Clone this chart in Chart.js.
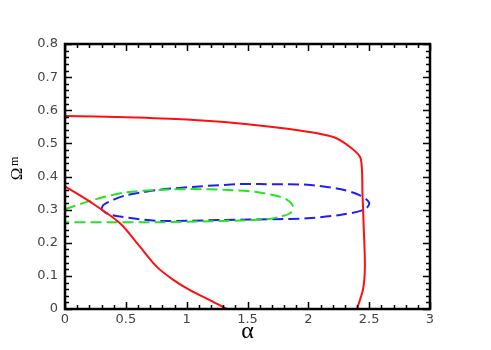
<html>
<head>
<script src="https://cdn.jsdelivr.net/npm/chart.js"></script>
<style>body{margin:0;background:#fff}</style>
</head>
<body>
<canvas id="myChart" width="491" height="350"></canvas>
<script>
// curves (alpha, Omega_m)
const redTopAlpha = [0, 0.5, 1.0, 1.5, 1.93, 2.2, 2.34, 2.43, 2.445, 2.455, 2.465, 2.45, 2.40]
const redTopOmega = [0.583, 0.579, 0.572, 0.558, 0.539, 0.52, 0.49, 0.455, 0.35, 0.25, 0.13, 0.06, 0]

const redLowAlpha = [0, 0.205, 0.452, 0.616, 0.753, 0.89, 1.027, 1.19, 1.33]
const redLowOmega = [0.37, 0.324, 0.259, 0.188, 0.128, 0.088, 0.057, 0.027, 0]

const greenAlpha = [0, 0.23, 0.5, 0.8, 1.05, 1.3, 1.56, 1.71, 1.82, 1.875, 1.85, 1.75, 1.66, 1.44, 1.1, 0.78, 0.4, 0]
const greenOmega = [0.301, 0.329, 0.352, 0.36, 0.362, 0.36, 0.354, 0.344, 0.331, 0.309, 0.289, 0.277, 0.271, 0.267, 0.264, 0.262, 0.262, 0.262]

const blueAlpha = [0.30, 0.315, 0.4, 0.51, 0.78, 1.1, 1.44, 1.6, 1.99, 2.26, 2.42, 2.5, 2.465, 2.26, 1.99, 1.71, 1.3, 0.78, 0.45, 0.34, 0.30]
const blueOmega = [0.301, 0.314, 0.33, 0.344, 0.36, 0.37, 0.377, 0.377, 0.375, 0.362, 0.344, 0.321, 0.301, 0.284, 0.274, 0.271, 0.269, 0.266, 0.279, 0.289, 0.301]

const xMajor = [0, 0.5, 1, 1.5, 2, 2.5, 3]
const yMajor = [0, 0.1, 0.2, 0.3, 0.4, 0.5, 0.6, 0.7, 0.8]

function pts(xs, ys) {
  return xs.map(function (x, i) { return { x: x, y: ys[i] } })
}

function line(xs, ys, color, dash, tension) {
  return {
    data: pts(xs, ys),
    borderColor: color,
    borderWidth: 2,
    borderDash: dash,
    showLine: true,
    pointRadius: 0,
    tension: tension,
    clip: false
  }
}

// frame with inward ticks on all four sides, plus the Omega_m label
const framePlugin = {
  id: "frame",
  afterDraw(chart) {
    const ctx = chart.ctx
    const a = chart.chartArea
    const xs = chart.scales.x, ys = chart.scales.y
    ctx.save()
    ctx.strokeStyle = "#000"
    ctx.lineWidth = 1.5
    ctx.beginPath()
    for (let i = 0; i <= 30; i++) {
      const px = Math.round(xs.getPixelForValue(i / 10)) + 0.5
      const len = i % 5 === 0 ? 7 : 4
      ctx.moveTo(px, a.bottom); ctx.lineTo(px, a.bottom - len)
      ctx.moveTo(px, a.top); ctx.lineTo(px, a.top + len)
    }
    for (let i = 0; i <= 40; i++) {
      const py = Math.round(ys.getPixelForValue(i / 50)) + 0.5
      const len = i % 5 === 0 ? 7 : 4
      ctx.moveTo(a.left, py); ctx.lineTo(a.left + len, py)
      ctx.moveTo(a.right, py); ctx.lineTo(a.right - len, py)
    }
    ctx.stroke()
    ctx.lineWidth = 2.5
    ctx.strokeRect(a.left, a.top, a.right - a.left, a.bottom - a.top)

    ctx.translate(22, 174)
    ctx.rotate(-Math.PI / 2)
    ctx.fillStyle = "#000"
    ctx.textBaseline = "alphabetic"
    ctx.font = "17px 'Liberation Serif'"
    ctx.textAlign = "center"
    ctx.fillText("Ω", 0, 0)
    ctx.textAlign = "left"
    ctx.font = "12px 'Liberation Serif'"
    ctx.fillText("m", 8, -4)
    ctx.restore()
  }
}

const config = {
  type: "scatter",
  data: {
    datasets: [
      line(redTopAlpha, redTopOmega, "#ff1010", [], 0.25),
      line(redLowAlpha, redLowOmega, "#ff1010", [], 0.3),
      line(greenAlpha, greenOmega, "#22e622", [11, 5], 0.3),
      line(blueAlpha, blueOmega, "#2020ee", [11, 5], 0.3)
    ]
  },
  options: {
    responsive: false,
    animation: false,
    layout: { padding: { top: 44, right: 61, bottom: 4, left: 0 } },
    plugins: { legend: { display: false }, tooltip: { enabled: false } },
    scales: {
      x: {
        type: "linear",
        min: 0,
        max: 3,
        afterFit(scale) { scale.height = 37 },
        afterBuildTicks(scale) { scale.ticks = xMajor.map(function (v) { return { value: v } }) },
        grid: { display: false, drawTicks: false },
        border: { display: false },
        ticks: {
          color: "#444", padding: 3, maxRotation: 0,
          font: { family: "DejaVu Sans", size: 13 },
          callback: function (v) { return String(Number(v)) }
        },
        title: { display: true, text: "α", color: "#000", padding: 0, font: { family: "Liberation Serif", size: 24 } }
      },
      y: {
        type: "linear",
        min: 0,
        max: 0.8,
        afterFit(scale) { scale.width = 65 },
        afterBuildTicks(scale) { scale.ticks = yMajor.map(function (v) { return { value: v } }) },
        grid: { display: false, drawTicks: false },
        border: { display: false },
        ticks: {
          color: "#444", padding: 7,
          font: { family: "DejaVu Sans", size: 13 },
          callback: function (v) { return String(Number(v)) }
        }
      }
    }
  },
  plugins: [framePlugin]
}

const myChart = new Chart(document.getElementById("myChart"), config)
</script>
</body>
</html>
